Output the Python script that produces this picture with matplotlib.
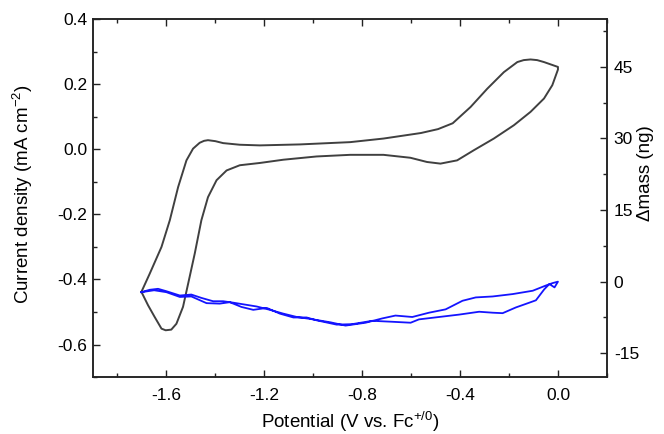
import matplotlib

matplotlib.use("Agg")
import matplotlib.pyplot as plt
from matplotlib.ticker import MultipleLocator

plt.rcParams["font.family"] = ["Liberation Sans", "DejaVu Sans"]
plt.rcParams["mathtext.fontset"] = "custom"
plt.rcParams["mathtext.rm"] = "Liberation Sans"
plt.rcParams["mathtext.it"] = "Liberation Sans:italic"
plt.rcParams["axes.unicode_minus"] = False

# current density, forward scan (V, mA cm-2)
cv_fwd_x = [-1.702, -1.668, -1.620, -1.586, -1.552, -1.518, -1.491, -1.464, -1.446,
            -1.430, -1.400, -1.368, -1.300, -1.218, -1.054, -0.849, -0.713, -0.560,
            -0.490, -0.430, -0.357, -0.289, -0.221, -0.166, -0.140, -0.112, -0.085,
            -0.057, 0.0]
cv_fwd_y = [-0.438, -0.382, -0.300, -0.218, -0.116, -0.034, 0.002, 0.020, 0.026,
            0.028, 0.025, 0.019, 0.014, 0.012, 0.015, 0.022, 0.033, 0.050,
            0.062, 0.080, 0.130, 0.186, 0.237, 0.268, 0.274, 0.276, 0.274,
            0.268, 0.253]

# current density, return scan
cv_rev_x = [0.0, -0.023, -0.057, -0.112, -0.180, -0.262, -0.344, -0.412, -0.453,
            -0.480, -0.535, -0.603, -0.713, -0.849, -0.986, -1.122, -1.218, -1.300,
            -1.354, -1.395, -1.430, -1.457, -1.484, -1.505, -1.532, -1.559, -1.580,
            -1.603, -1.620, -1.648, -1.675, -1.702]
cv_rev_y = [0.245, 0.197, 0.156, 0.115, 0.074, 0.033, -0.003, -0.034, -0.040,
            -0.044, -0.039, -0.026, -0.017, -0.017, -0.022, -0.032, -0.042, -0.049,
            -0.065, -0.095, -0.147, -0.218, -0.320, -0.392, -0.484, -0.536, -0.554,
            -0.556, -0.551, -0.515, -0.479, -0.438]

# mass change, forward scan (ng)
mass_fwd_x = [-1.702, -1.668, -1.634, -1.600, -1.545, -1.498, -1.457, -1.409, -1.368,
              -1.327, -1.279, -1.231, -1.177, -1.122, -1.067, -1.013, -0.931, -0.868,
              -0.786, -0.718, -0.664, -0.595, -0.527, -0.459, -0.390, -0.336, -0.267,
              -0.185, -0.103, -0.049, -0.022, 0.0]
mass_fwd_y = [-2.2, -1.7, -1.5, -2.0, -2.9, -2.7, -3.4, -4.1, -4.1,
              -4.4, -4.8, -5.2, -5.9, -6.7, -7.4, -7.8, -8.5, -9.2,
              -8.6, -7.7, -7.1, -7.4, -6.5, -5.8, -4.0, -3.3, -3.1,
              -2.6, -1.9, -0.8, -0.3, 0.0]

# mass change, return scan
mass_rev_x = [0.0, -0.014, -0.035, -0.056, -0.090, -0.117, -0.172, -0.226, -0.267,
              -0.322, -0.404, -0.486, -0.568, -0.602, -0.677, -0.759, -0.841, -0.904,
              -0.986, -1.027, -1.081, -1.136, -1.190, -1.245, -1.293, -1.341, -1.382,
              -1.436, -1.498, -1.545, -1.600, -1.650, -1.702]
mass_rev_y = [0.0, -1.2, -0.5, -1.6, -3.9, -4.4, -5.4, -6.6, -6.5,
              -6.3, -6.9, -7.4, -7.9, -8.6, -8.4, -8.2, -8.9, -9.0,
              -8.1, -7.5, -7.5, -6.7, -5.5, -5.9, -5.3, -4.3, -4.6,
              -4.5, -3.1, -3.2, -2.2, -1.8, -2.2]

TICK_FS = 12.5
LABEL_FS = 13.5

fig = plt.figure(figsize=(6.64, 4.34), dpi=100, facecolor="white")
ax = fig.add_axes([0.140, 0.131, 0.774, 0.825])
ax2 = ax.twinx()

ax.plot(cv_fwd_x + cv_rev_x, cv_fwd_y + cv_rev_y, color="#404040", linewidth=1.4,
        solid_joinstyle="round")
ax2.plot(mass_fwd_x + mass_rev_x, mass_fwd_y + mass_rev_y, color="#1414ff",
         linewidth=1.3, solid_joinstyle="round")

ax.set_xlim(-1.9, 0.2)
ax.set_ylim(-0.7, 0.4)
ax2.set_ylim(-20, 55)

ax.xaxis.set_major_locator(MultipleLocator(0.4))
ax.xaxis.set_minor_locator(MultipleLocator(0.2))
ax.yaxis.set_major_locator(MultipleLocator(0.2))
ax.yaxis.set_minor_locator(MultipleLocator(0.1))
ax2.yaxis.set_major_locator(MultipleLocator(15))
ax2.yaxis.set_minor_locator(MultipleLocator(7.5))

ax.xaxis.set_major_formatter(lambda v, p: f"{v:.1f}")
ax.yaxis.set_major_formatter(lambda v, p: f"{v:.1f}")
ax2.yaxis.set_major_formatter(lambda v, p: f"{v:.0f}")

ax.tick_params(axis="both", which="both", direction="in", top=True, right=False,
               labelsize=TICK_FS, width=1.0, color="#222222")
ax.tick_params(which="major", length=5)
ax.tick_params(which="minor", length=3)
ax.tick_params(axis="x", which="major", pad=8)
ax.tick_params(axis="y", which="major", pad=4)
ax2.tick_params(axis="y", which="both", direction="in", labelsize=TICK_FS,
                width=1.0, color="#222222")
ax2.tick_params(which="major", length=5, pad=5)
ax2.tick_params(which="minor", length=3)

for a in (ax, ax2):
    for spine in a.spines.values():
        spine.set_linewidth(1.1)
        spine.set_color("#222222")

ax.set_xlabel("Potential (V vs. Fc$^{+/0}$)", fontsize=LABEL_FS)
ax.set_ylabel("Current density (mA cm$^{-2}$)", fontsize=LABEL_FS)
ax2.set_ylabel("\u0394mass (ng)", fontsize=LABEL_FS)
ax.xaxis.set_label_coords(0.5, -0.092)
ax.yaxis.set_label_coords(-0.113, 0.51)
ax2.yaxis.set_label_coords(1.058, 0.57)

fig.savefig("out.png", dpi=100, facecolor="white")
